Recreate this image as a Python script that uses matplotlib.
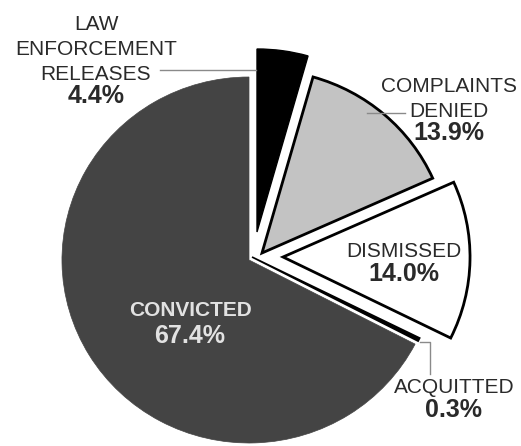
import matplotlib
matplotlib.use("Agg")
import matplotlib.pyplot as plt

# ---- data ----
categories = ["LAW\nENFORCEMENT\nRELEASES", "COMPLAINTS\nDENIED", "DISMISSED", "ACQUITTED", "CONVICTED"]
values = [4.4, 13.9, 14.0, 0.3, 67.4]
pct_labels = ["4.4%", "13.9%", "14.0%", "0.3%", "67.4%"]

# ---- style ----
face_colors = ["#000000", "#c3c3c3", "#ffffff", "#000000", "#444444"]
edge_colors = ["#000000", "#000000", "#000000", "#000000", "#444444"]
edge_widths = [1.0, 2.0, 2.0, 1.2, 0.5]
# slice offsets in image pixels (dx right, dy up)
offsets = [(8, 28), (13, 7), (34, 3), (3, 3), (0, 0)]

W, H = 521, 446
SX = 1.022  # slight horizontal stretch of the original artwork
fig = plt.figure(figsize=(W / 100, H / 100), dpi=100)
ax = fig.add_axes([0, 0, 1, 1])

def X(x_img):
    return x_img / SX

def Y(y_img):
    return H - y_img

cx, cy = X(249), Y(260)
wedges, _ = ax.pie(values, startangle=90, counterclock=False,
                   colors=face_colors, center=(cx, cy), radius=183, frame=True)
for w, ec, lw, (dx, dy) in zip(wedges, edge_colors, edge_widths, offsets):
    w.set_edgecolor(ec)
    w.set_linewidth(lw)
    w.set_joinstyle("miter")
    w.set_center((cx + dx / SX, cy + dy))

ax.set_xlim(0, W / SX)
ax.set_ylim(0, H)
ax.set_aspect("auto")
ax.axis("off")

font = "Liberation Sans"
txt_c = "#2a2a2a"
LBL = 15
PCT = 18

def block(x, baselines, lines, pct, pct_base, color=txt_c, bold_lbl=False):
    for yb, line in zip(baselines, lines):
        ax.text(X(x), Y(yb), line, ha="center", va="baseline", fontsize=LBL,
                family=font, color=color, fontweight="bold" if bold_lbl else "normal")
    ax.text(X(x), Y(pct_base), pct, ha="center", va="baseline", fontsize=PCT,
            family=font, color=color, fontweight="bold")

# law enforcement releases
block(96, [30, 55, 80], categories[0].split("\n"), pct_labels[0], 103)
# complaints denied
block(449, [92, 117], categories[1].split("\n"), pct_labels[1], 140)
# dismissed
block(404, [257], categories[2].split("\n"), pct_labels[2], 281)
# acquitted
block(454, [393], categories[3].split("\n"), pct_labels[3], 417)
# convicted
block(190, [316], categories[4].split("\n"), pct_labels[4], 343, color="#e2e2e2", bold_lbl=True)

# leader lines
lc = "#8a8a8a"
ax.plot([X(160), X(256)], [Y(70), Y(70)], color=lc, lw=1)
ax.plot([X(367), X(405)], [Y(113), Y(113)], color=lc, lw=1)
ax.plot([X(420), X(430), X(430)], [Y(342), Y(342), Y(374)], color=lc, lw=1)

fig.savefig("out.png", dpi=100, facecolor="white")
